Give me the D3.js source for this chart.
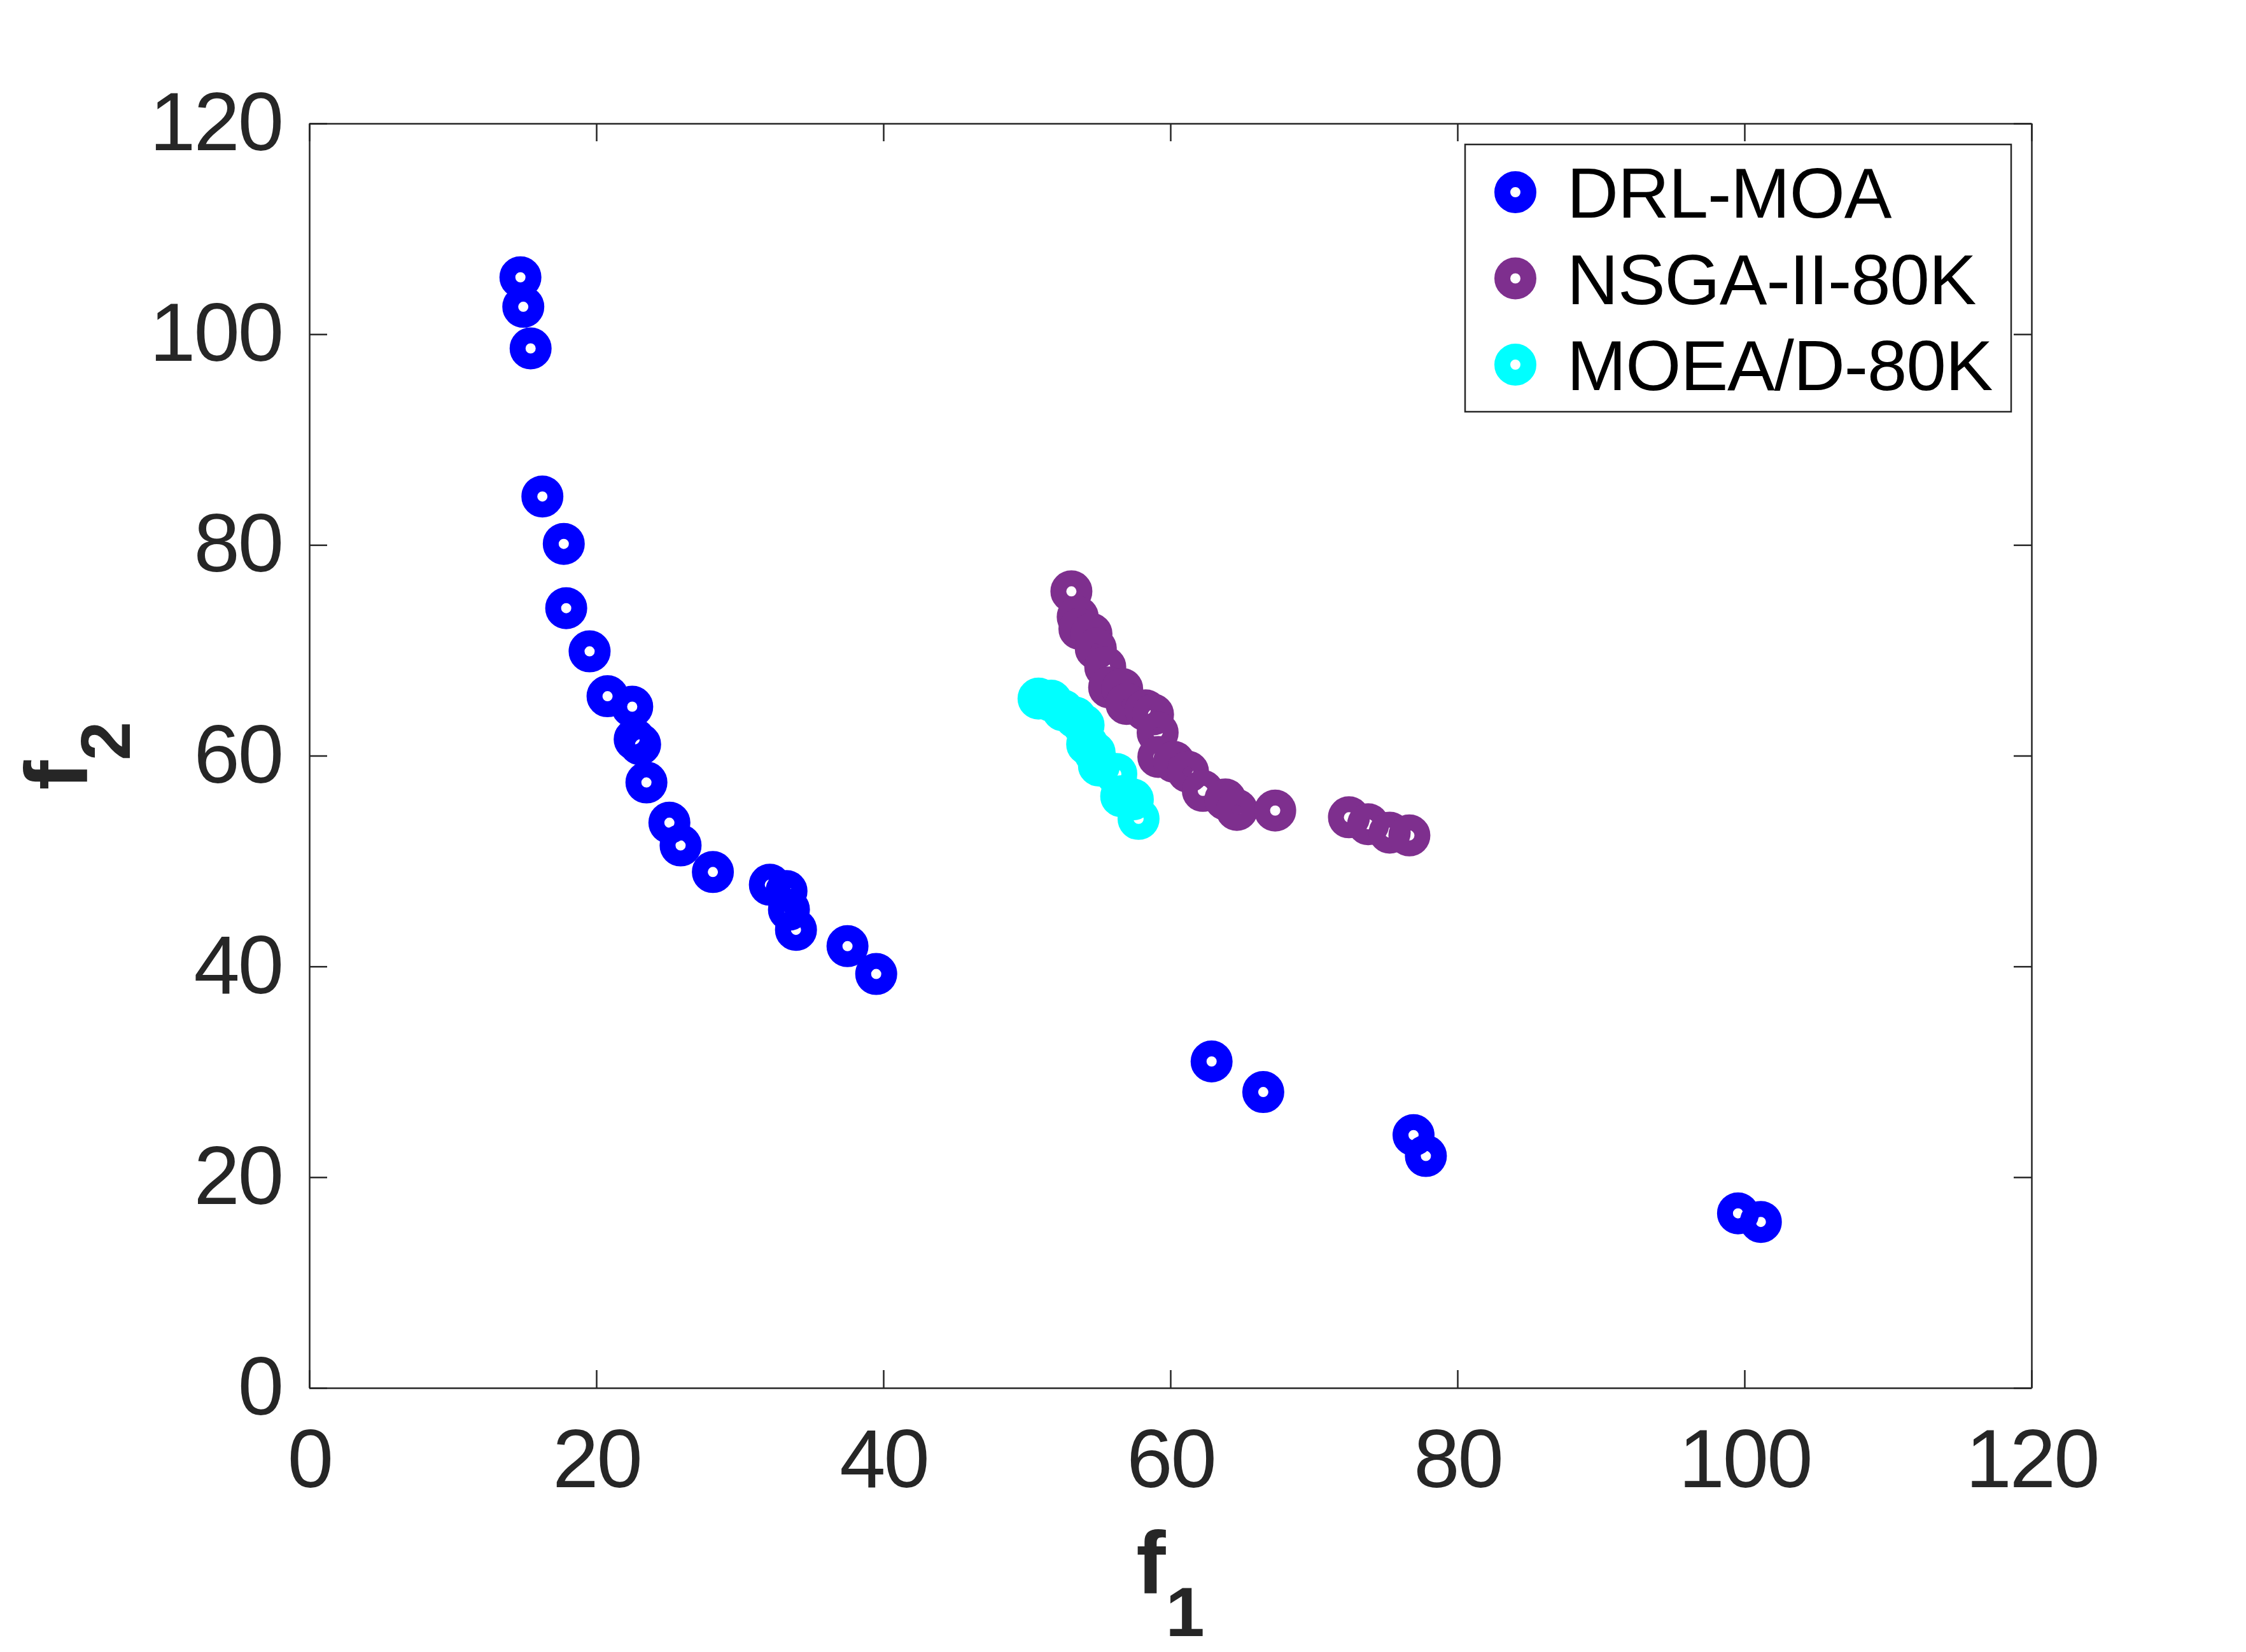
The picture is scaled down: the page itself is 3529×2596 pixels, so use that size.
<!DOCTYPE html>
<html>
<head>
<meta charset="utf-8">
<script src="https://cdn.jsdelivr.net/npm/d3@7"></script>
<style>
  html, body { margin: 0; padding: 0; background: #fff; }
  svg { display: block; }
  .axis text { font-family: "Liberation Sans", Arial, sans-serif; fill: #262626; }
  .axis path, .axis line { stroke: #262626; stroke-width: 2.5; }
</style>
</head>
<body>
<div id="plot"></div>
<script>
// Series values
const drlF1 = [14.71, 14.91, 15.42, 16.24, 17.73, 17.90, 19.53, 20.78, 22.50, 22.67, 23.05, 23.49, 25.09, 25.87, 28.12,
  32.09, 33.25, 33.42, 33.91, 37.50, 39.50, 62.87, 66.47, 76.94, 77.80, 99.55, 101.14];
const drlF2 = [105.4, 102.6, 98.65, 84.6, 80.1, 74.0, 69.9, 65.64, 64.65, 61.55, 61.07, 57.46, 53.64, 51.48, 48.96,
  47.75, 47.15, 45.38, 43.47, 41.92, 39.28, 30.98, 28.08, 23.99, 22.01, 16.57, 15.75];

const nsgaF1 = [53.10, 53.54, 53.66, 54.50, 54.80, 55.46, 55.73, 56.64, 56.94, 58.27, 58.79, 59.11, 59.16, 60.25,
  61.23, 62.26, 63.83, 64.63, 67.30, 72.44, 73.78, 75.28, 76.65];
const nsgaF2 = [75.59, 73.17, 72.04, 71.56, 70.15, 68.40, 66.48, 66.33, 64.91, 64.31, 63.91, 62.19, 59.88, 59.41,
  58.47, 56.66, 55.85, 54.85, 54.79, 54.15, 53.50, 52.70, 52.43];

const moeadF1 = [50.81, 51.69, 52.51, 53.39, 53.95, 54.20, 54.72, 55.02, 56.23, 56.57, 57.38, 57.78];
const moeadF2 = [65.42, 65.22, 64.31, 63.61, 62.90, 61.09, 60.28, 59.07, 58.27, 56.15, 55.85, 54.00];

const seriesNames = ["DRL-MOA", "NSGA-II-80K", "MOEA/D-80K"];
const seriesColors = ["#0000ff", "#7e2f8e", "#00ffff"];
const xTicks = [0, 20, 40, 60, 80, 100, 120];
const yTicks = [0, 20, 40, 60, 80, 100, 120];

const W = 3529, H = 2596;
const margin = {top: 194, right: 337, bottom: 415, left: 486};
const width = W - margin.left - margin.right;
const height = H - margin.top - margin.bottom;

const svg = d3.select("#plot")
  .append("svg")
  .attr("width", W)
  .attr("height", H);

svg.append("rect").attr("width", W).attr("height", H).attr("fill", "#fff");

const g = svg.append("g")
  .attr("transform", `translate(${margin.left},${margin.top})`);

const x = d3.scaleLinear().domain([0, 120]).range([0, width]);
const y = d3.scaleLinear().domain([0, 120]).range([height, 0]);

// axes (ticks pointing in, box all round)
const tickLen = 28;
g.append("g").attr("class", "axis")
  .attr("transform", `translate(0,${height})`)
  .call(d3.axisBottom(x).tickValues(xTicks).tickSizeInner(-tickLen).tickSizeOuter(0).tickPadding(64))
  .selectAll("text").style("font-size", "130px").style("letter-spacing", "-3px");

g.append("g").attr("class", "axis")
  .call(d3.axisLeft(y).tickValues(yTicks).tickSizeInner(-tickLen).tickSizeOuter(0).tickPadding(43))
  .selectAll("text").style("font-size", "130px").style("letter-spacing", "-3px");

g.append("g").attr("class", "axis")
  .call(d3.axisTop(x).tickValues(xTicks).tickSizeInner(-tickLen).tickSizeOuter(0).tickFormat(""));

g.append("g").attr("class", "axis")
  .attr("transform", `translate(${width},0)`)
  .call(d3.axisRight(y).tickValues(yTicks).tickSizeInner(-tickLen).tickSizeOuter(0).tickFormat(""));

// axis labels f1 / f2
const xLab = svg.append("text")
  .attr("x", margin.left + width / 2)
  .attr("y", 2504)
  .attr("text-anchor", "middle")
  .style("font-family", "Liberation Sans, Arial, sans-serif")
  .style("font-weight", "bold")
  .style("fill", "#262626")
  .style("font-size", "139px");
xLab.append("tspan").text("f");
xLab.append("tspan").attr("dy", 67).style("font-size", "110px").text("1");

const yLab = svg.append("text")
  .attr("transform", `translate(137,${margin.top + height / 2}) rotate(-90)`)
  .attr("text-anchor", "middle")
  .style("font-family", "Liberation Sans, Arial, sans-serif")
  .style("font-weight", "bold")
  .style("fill", "#262626")
  .style("font-size", "139px");
yLab.append("tspan").text("f");
yLab.append("tspan").attr("dy", 67).style("font-size", "110px").text("2");

// markers
const series = [
  {name: seriesNames[0], color: seriesColors[0], pts: drlF1.map((v, i) => [v, drlF2[i]])},
  {name: seriesNames[1], color: seriesColors[1], pts: nsgaF1.map((v, i) => [v, nsgaF2[i]])},
  {name: seriesNames[2], color: seriesColors[2], pts: moeadF1.map((v, i) => [v, moeadF2[i]])}
];

const markerR = 20.5, markerW = 25;

series.forEach(s => {
  g.append("g")
    .selectAll("circle")
    .data(s.pts)
    .enter()
    .append("circle")
    .attr("cx", d => x(d[0]))
    .attr("cy", d => y(d[1]))
    .attr("r", markerR)
    .attr("fill", "none")
    .attr("stroke", s.color)
    .attr("stroke-width", markerW);
});

// legend
const legend = svg.append("g").attr("transform", "translate(2302,227)");
legend.append("rect")
  .attr("width", 858)
  .attr("height", 420)
  .attr("fill", "#fff")
  .attr("stroke", "#262626")
  .attr("stroke-width", 2.5);

series.forEach((s, i) => {
  const cy = 75 + i * 135.5;
  legend.append("circle")
    .attr("cx", 79)
    .attr("cy", cy)
    .attr("r", markerR)
    .attr("fill", "none")
    .attr("stroke", s.color)
    .attr("stroke-width", markerW);
  legend.append("text")
    .attr("x", 160)
    .attr("y", cy + 40)
    .style("font-family", "Liberation Sans, Arial, sans-serif")
    .style("font-size", "112px")
    .style("letter-spacing", "-1px")
    .style("fill", "#000")
    .text(s.name);
});
</script>
</body>
</html>
